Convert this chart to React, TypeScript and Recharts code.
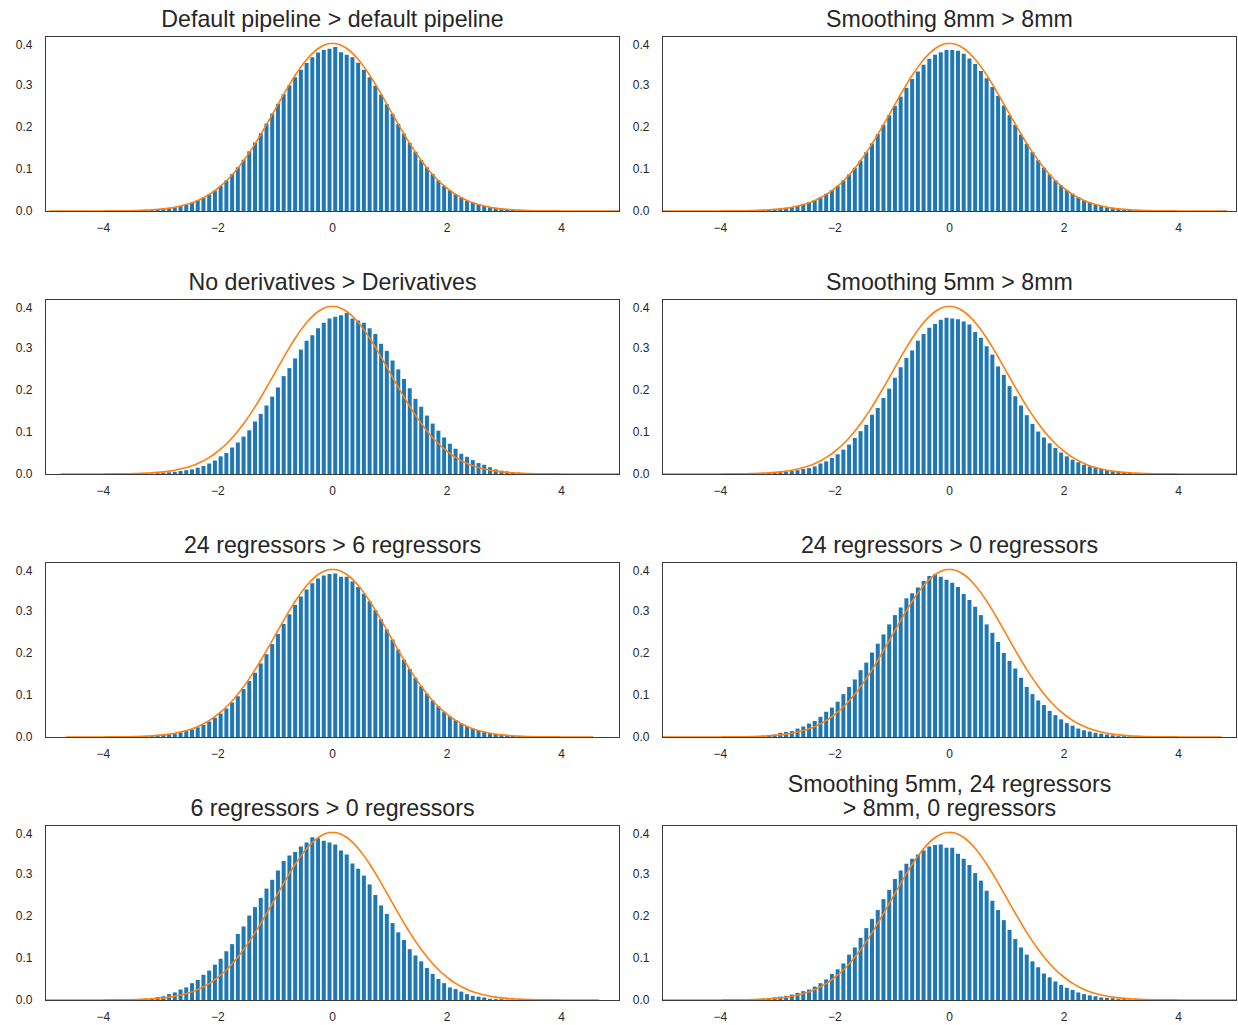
import React from 'react';
import { ComposedChart, Bar, Line, XAxis, YAxis } from 'recharts';

// histogram bins: 0.1 wide, centres from -3.45 to 3.45 (70 bins)
const binStart = -3.45;
// normal curve sampled every 0.1 from -5.05 to 5.05 (102 points)
const curveStart = -5.05;
const step = 0.1;

const normalCurve = [
  0, 0, 0, 0, 0, 0, 0, 0, 0, 0.0001, 0.0001,
  0.0002, 0.0002, 0.0004, 0.0005, 0.0007, 0.001, 0.0015, 0.002, 0.0028, 0.0038,
  0.0051, 0.0069, 0.0091, 0.0119, 0.0154, 0.0198, 0.0252, 0.0317, 0.0396, 0.0488,
  0.0596, 0.0721, 0.0863, 0.1023, 0.12, 0.1394, 0.1604, 0.1826, 0.2059, 0.2299,
  0.2541, 0.278, 0.3011, 0.323, 0.3429, 0.3605, 0.3752, 0.3867, 0.3945, 0.3984,
  0.3984, 0.3945, 0.3867, 0.3752, 0.3605, 0.3429, 0.323, 0.3011, 0.278, 0.2541,
  0.2299, 0.2059, 0.1826, 0.1604, 0.1394, 0.12, 0.1023, 0.0863, 0.0721, 0.0596,
  0.0488, 0.0396, 0.0317, 0.0252, 0.0198, 0.0154, 0.0119, 0.0091, 0.0069, 0.0051,
  0.0038, 0.0028, 0.002, 0.0015, 0.001, 0.0007, 0.0005, 0.0004, 0.0002, 0.0002,
  0.0001, 0.0001, 0, 0, 0, 0, 0, 0, 0, 0, 0,
];

const defaultPipeline = [
  0.001, 0.001, 0.002, 0.002, 0.004, 0.005, 0.007, 0.009, 0.012, 0.015, 0.020, 0.026, 0.032, 0.040, 0.049, 0.060, 0.073, 0.088,
  0.104, 0.122, 0.142, 0.163, 0.185, 0.208, 0.232, 0.255, 0.278, 0.299, 0.318, 0.336, 0.352, 0.366, 0.377, 0.383, 0.386,
  0.390, 0.378, 0.372, 0.366, 0.353, 0.336, 0.318, 0.298, 0.277, 0.254, 0.231, 0.207, 0.184, 0.162, 0.141, 0.121, 0.104,
  0.088, 0.073, 0.060, 0.049, 0.040, 0.032, 0.025, 0.020, 0.015, 0.012, 0.009, 0.007, 0.005, 0.004, 0.003, 0.002, 0.001, 0.001,
];
const smoothing8to8 = [
  0.001, 0.001, 0.002, 0.003, 0.004, 0.005, 0.007, 0.009, 0.012, 0.016, 0.021, 0.026, 0.033, 0.041, 0.050, 0.060, 0.073, 0.087,
  0.103, 0.120, 0.140, 0.161, 0.183, 0.205, 0.228, 0.250, 0.272, 0.293, 0.314, 0.332, 0.348, 0.362, 0.372, 0.378, 0.383,
  0.383, 0.381, 0.374, 0.363, 0.350, 0.333, 0.316, 0.295, 0.274, 0.251, 0.228, 0.205, 0.182, 0.160, 0.140, 0.121, 0.103,
  0.087, 0.073, 0.061, 0.050, 0.041, 0.033, 0.026, 0.021, 0.016, 0.012, 0.009, 0.007, 0.005, 0.004, 0.003, 0.002, 0.001, 0.001,
];
const noDerivatives = [
  0.000, 0.001, 0.001, 0.001, 0.002, 0.003, 0.004, 0.005, 0.007, 0.009, 0.011, 0.015, 0.019, 0.025, 0.032, 0.042, 0.050, 0.063,
  0.075, 0.089, 0.104, 0.125, 0.143, 0.163, 0.184, 0.206, 0.233, 0.252, 0.275, 0.296, 0.317, 0.330, 0.347, 0.360, 0.370,
  0.374, 0.378, 0.383, 0.370, 0.365, 0.360, 0.347, 0.333, 0.310, 0.293, 0.270, 0.249, 0.226, 0.204, 0.179, 0.160, 0.139,
  0.120, 0.103, 0.087, 0.072, 0.060, 0.048, 0.041, 0.033, 0.026, 0.022, 0.016, 0.011, 0.008, 0.006, 0.004, 0.003, 0.002, 0.001,
];
const smoothing5to8 = [
  0.000, 0.001, 0.001, 0.002, 0.003, 0.004, 0.005, 0.007, 0.009, 0.012, 0.014, 0.018, 0.025, 0.030, 0.038, 0.047, 0.058, 0.070,
  0.086, 0.102, 0.117, 0.141, 0.157, 0.181, 0.203, 0.229, 0.254, 0.276, 0.294, 0.317, 0.333, 0.348, 0.357, 0.367, 0.372,
  0.370, 0.368, 0.363, 0.356, 0.338, 0.324, 0.304, 0.284, 0.256, 0.236, 0.209, 0.185, 0.163, 0.140, 0.119, 0.101, 0.087,
  0.073, 0.062, 0.051, 0.042, 0.034, 0.028, 0.022, 0.018, 0.015, 0.012, 0.009, 0.007, 0.005, 0.004, 0.003, 0.002, 0.001, 0.001,
];
const regressors24to6 = [
  0.001, 0.001, 0.002, 0.002, 0.003, 0.005, 0.006, 0.008, 0.011, 0.014, 0.018, 0.023, 0.029, 0.037, 0.046, 0.056, 0.068, 0.082,
  0.097, 0.114, 0.133, 0.153, 0.175, 0.197, 0.221, 0.245, 0.269, 0.292, 0.314, 0.334, 0.351, 0.366, 0.377, 0.384, 0.388,
  0.389, 0.381, 0.381, 0.370, 0.357, 0.341, 0.323, 0.302, 0.280, 0.256, 0.232, 0.208, 0.184, 0.162, 0.141, 0.121, 0.103,
  0.087, 0.073, 0.060, 0.049, 0.040, 0.032, 0.025, 0.020, 0.015, 0.012, 0.009, 0.007, 0.005, 0.004, 0.003, 0.002, 0.001, 0.001,
];
const regressors24to0 = [
  0.001, 0.002, 0.003, 0.005, 0.006, 0.010, 0.012, 0.014, 0.020, 0.025, 0.032, 0.038, 0.048, 0.060, 0.070, 0.084, 0.102, 0.119,
  0.137, 0.159, 0.177, 0.201, 0.222, 0.244, 0.268, 0.290, 0.308, 0.330, 0.342, 0.356, 0.371, 0.383, 0.387, 0.381, 0.374,
  0.367, 0.357, 0.340, 0.326, 0.310, 0.290, 0.268, 0.248, 0.226, 0.200, 0.181, 0.163, 0.141, 0.119, 0.102, 0.087, 0.076,
  0.062, 0.052, 0.042, 0.033, 0.027, 0.020, 0.016, 0.013, 0.010, 0.008, 0.006, 0.004, 0.002, 0.002, 0.001, 0.001, 0.000, 0.000,
];
const regressors6to0 = [
  0.001, 0.002, 0.003, 0.004, 0.007, 0.009, 0.014, 0.018, 0.025, 0.030, 0.040, 0.048, 0.060, 0.070, 0.084, 0.098, 0.116, 0.133,
  0.157, 0.175, 0.201, 0.221, 0.243, 0.265, 0.286, 0.308, 0.331, 0.344, 0.352, 0.365, 0.375, 0.387, 0.385, 0.379, 0.375,
  0.370, 0.356, 0.346, 0.325, 0.312, 0.296, 0.275, 0.250, 0.225, 0.205, 0.183, 0.161, 0.143, 0.121, 0.106, 0.092, 0.076,
  0.062, 0.050, 0.040, 0.030, 0.026, 0.020, 0.014, 0.010, 0.008, 0.006, 0.003, 0.002, 0.002, 0.001, 0.001, 0.000, 0.000, 0.000,
];
const smoothing5Regressors24 = [
  0.001, 0.002, 0.003, 0.005, 0.006, 0.008, 0.010, 0.013, 0.017, 0.021, 0.025, 0.032, 0.040, 0.049, 0.062, 0.073, 0.087, 0.108,
  0.125, 0.148, 0.171, 0.193, 0.214, 0.240, 0.262, 0.288, 0.308, 0.324, 0.336, 0.346, 0.356, 0.365, 0.369, 0.370, 0.362,
  0.362, 0.348, 0.336, 0.321, 0.302, 0.284, 0.260, 0.236, 0.214, 0.190, 0.167, 0.145, 0.125, 0.108, 0.092, 0.078, 0.063,
  0.054, 0.044, 0.036, 0.029, 0.024, 0.018, 0.014, 0.011, 0.009, 0.006, 0.005, 0.004, 0.002, 0.002, 0.001, 0.001, 0.001, 0.000,
];

const titles = [
  ['Default pipeline > default pipeline'],
  ['Smoothing 8mm > 8mm'],
  ['No derivatives > Derivatives'],
  ['Smoothing 5mm > 8mm'],
  ['24 regressors > 6 regressors'],
  ['24 regressors > 0 regressors'],
  ['6 regressors > 0 regressors'],
  ['Smoothing 5mm, 24 regressors', '> 8mm, 0 regressors'],
];
const histograms = [
  defaultPipeline, smoothing8to8, noDerivatives, smoothing5to8,
  regressors24to6, regressors24to0, regressors6to0, smoothing5Regressors24,
];
// x extent of the orange curve in each panel
const curveFrom = [-4.95, -5.05, -4.75, -5.05, -4.65, -5.05, -5.05, -5.05];
const curveTo = [5.05, 4.85, 5.05, 5.05, 4.55, 4.75, 4.65, 5.05];

const xTicks = [-4, -2, 0, 2, 4];
const yTicks = [0, 0.1, 0.2, 0.3, 0.4];

const colLeft = [46, 663];
const rowTop = [37, 300, 563, 826];
const plotW = 573;
const plotH = 174;
const yAxisW = 45;
const xAxisH = 30;
const font = '"Liberation Sans", Arial, Helvetica, sans-serif';
const ink = '#262626';

const round2 = (v: number) => Math.round(v * 100) / 100;

function buildRows(hist: number[], from: number, to: number) {
  return normalCurve.map((p, i) => {
    const x = round2(curveStart + i * step);
    const j = Math.round((x - binStart) / step);
    return {
      x,
      h: j >= 0 && j < hist.length ? hist[j] : null,
      pdf: x >= from - 1e-6 && x <= to + 1e-6 ? p : null,
    };
  });
}

const fmtX = (v: number) => (v < 0 ? '\u2212' + Math.abs(v) : String(v));

function Panel({ idx }: { idx: number }) {
  const left = colLeft[idx % 2];
  const top = rowTop[Math.floor(idx / 2)];
  const rows = buildRows(histograms[idx], curveFrom[idx], curveTo[idx]);
  return (
    <>
      <div style={{ position: 'absolute', left: left - yAxisW, top }}>
        <ComposedChart
          width={plotW + yAxisW}
          height={plotH + xAxisH}
          data={rows}
          margin={{ top: 0, right: 0, bottom: 0, left: 0 }}
          barCategoryGap="13%"
        >
          <XAxis
            dataKey="x"
            type="number"
            domain={[-5, 5]}
            allowDataOverflow
            ticks={xTicks}
            tickFormatter={fmtX}
            height={xAxisH}
            axisLine={false}
            tickLine={false}
            tickSize={6}
            tickMargin={6}
            tick={{ fontSize: 12, fill: ink, fontFamily: font }}
          />
          <YAxis
            type="number"
            domain={[0, 0.414]}
            allowDataOverflow
            ticks={yTicks}
            tickFormatter={(v: number) => v.toFixed(1)}
            width={yAxisW}
            axisLine={false}
            tickLine={false}
            tickSize={6}
            tickMargin={7.5}
            tick={{ fontSize: 12, fill: ink, fontFamily: font }}
          />
          <Bar dataKey="h" fill="#1f77b4" isAnimationActive={false} />
          <Line
            dataKey="pdf"
            type="monotone"
            stroke="#ff7f0e"
            strokeWidth={1.6}
            dot={false}
            activeDot={false}
            isAnimationActive={false}
          />
        </ComposedChart>
      </div>
      <div
        style={{
          position: 'absolute',
          left: left - 0.6,
          top: top - 0.6,
          width: plotW + 1.25,
          height: plotH + 1.25,
          border: '1.3px solid #3a3a3a',
          boxSizing: 'border-box',
          pointerEvents: 'none',
        }}
      />
    </>
  );
}

export default function App() {
  return (
    <div style={{ position: 'absolute', left: 0, top: 0, width: 1238, height: 1025, background: '#fff' }}>
      {histograms.map((_, i) => (
        <Panel key={i} idx={i} />
      ))}
      <svg width={1238} height={1025} style={{ position: 'absolute', left: 0, top: 0, pointerEvents: 'none' }}>
        {titles.map((lines, i) => {
          const cx = colLeft[i % 2] + plotW / 2;
          const base = rowTop[Math.floor(i / 2)] - 10.3;
          return lines.map((t, k) => (
            <text
              key={i + '-' + k}
              x={cx}
              y={base - (lines.length - 1 - k) * 24}
              textAnchor="middle"
              fontSize={23.2}
              fontFamily={font}
              fill={ink}
            >
              {t}
            </text>
          ));
        })}
      </svg>
    </div>
  );
}
